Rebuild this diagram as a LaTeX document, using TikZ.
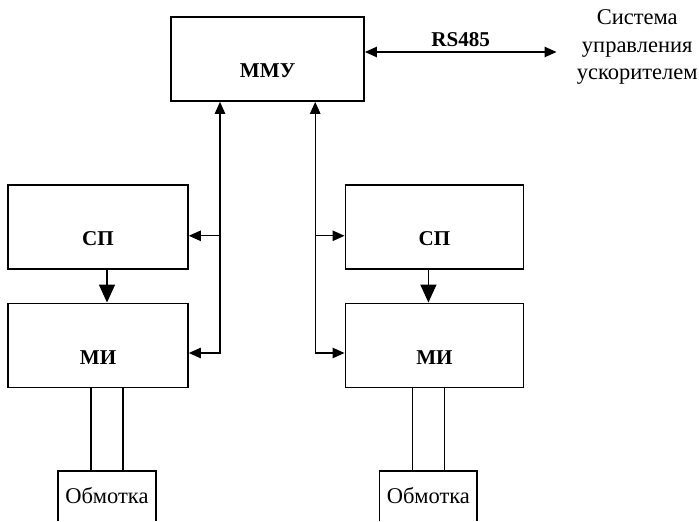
\documentclass[tikz,border=0pt]{standalone}
\usepackage{fontspec}
\setmainfont{Liberation Serif}
\usetikzlibrary{arrows.meta}
\tikzstyle{anno} = [font=\fontsize{16}{19.5}\selectfont]
\tikzstyle{block} = [font=\fontsize{15}{18.5}\selectfont\bfseries, rectangle, minimum width=4.5cm, minimum height=2.1cm, text height=0.95cm, text depth=0cm, draw=black, line width=1.2pt]
\tikzstyle{winding} = [font=\fontsize{16}{19.5}\selectfont, rectangle, minimum width=2.45cm, minimum height=1.25cm, inner sep=0pt]
\tikzstyle{arrow} = [line width=1pt, ->, >={Triangle[length=0.3cm, width=0.26cm]}]
\tikzstyle{biarrow} = [line width=1pt, <->, >={Triangle[length=0.3cm, width=0.26cm]}]
\tikzstyle{bigarrow} = [line width=1pt, ->, >={Triangle[length=0.45cm, width=0.4cm]}]
\begin{document}
\begin{tikzpicture}
\useasboundingbox (0,0) rectangle (17.475,13.025);
  \node (mmu) [block, minimum width=4.825cm] at (6.69,11.55) {ММУ};
  \node (spL) [block, below of=mmu, xshift=-4.24cm, yshift=-3.2cm] {СП};
  \node (miL) [block, below of=spL, yshift=-1.96cm] {МИ};
  \node (spR) [block, minimum width=4.45cm, right of=spL, xshift=7.41cm] {СП};
  \node (miR) [block, minimum width=4.45cm, below of=spR, yshift=-1.96cm] {МИ};
  \node (wL) [winding, below of=miL, xshift=0.225cm, yshift=-2.765cm] {Обмотка};
  \node (wR) [winding, minimum width=2.425cm, below of=miR, xshift=-0.15cm, yshift=-2.765cm] {Обмотка};
  \node (sys) [anno, align=center, inner xsep=0.5cm, right of=mmu, xshift=8.24cm, yshift=0.3cm]{Система\\управления\\ускорителем};
\draw[line width=1.2pt] (wL.south west) |- (wL.north east) -- (wL.south east);
\draw[line width=1.2pt] (wR.south west) |- (wR.north east) -- (wR.south east);
  % RS485 link
  \coordinate (rsA) at ([yshift=0.175cm]mmu.east);
  \draw[biarrow](rsA) -- (rsA -| sys.west) node[midway, above, font=\fontsize{15}{18.5}\selectfont\bfseries]{RS485};
  % buses from MMU
  \coordinate (busL) at ([xshift=-1.19cm]mmu.south);
  \coordinate (busR) at ([xshift=1.19cm]mmu.south);
  \coordinate (spLin) at ([yshift=-0.22cm]spL.east);
  \coordinate (miLin) at ([yshift=-0.19cm]miL.east);
  \coordinate (spRin) at ([yshift=-0.22cm]spR.west);
  \coordinate (miRin) at ([yshift=-0.19cm]miR.west);
  \draw[biarrow](busL) |- (miLin);
  \draw[arrow](spLin -| busL) -- (spLin);
  \draw[biarrow](busR) |- (miRin);
  \draw[arrow](spRin -| busR) -- (spRin);
  \draw[bigarrow](spL.south -| wL) -- (miL.north -| wL);
  \draw[bigarrow](spR.south -| wR) -- (miR.north -| wR);
  % winding leads
  \draw[line width=1pt] ([xshift=-0.4cm]wL.north) -- ([xshift=-0.4cm]wL.north |- miL.south);
  \draw[line width=1pt] ([xshift=0.4cm]wL.north) -- ([xshift=0.4cm]wL.north |- miL.south);
  \draw[line width=1pt] ([xshift=-0.4cm]wR.north) -- ([xshift=-0.4cm]wR.north |- miR.south);
  \draw[line width=1pt] ([xshift=0.4cm]wR.north) -- ([xshift=0.4cm]wR.north |- miR.south);
\end{tikzpicture}
\end{document}
